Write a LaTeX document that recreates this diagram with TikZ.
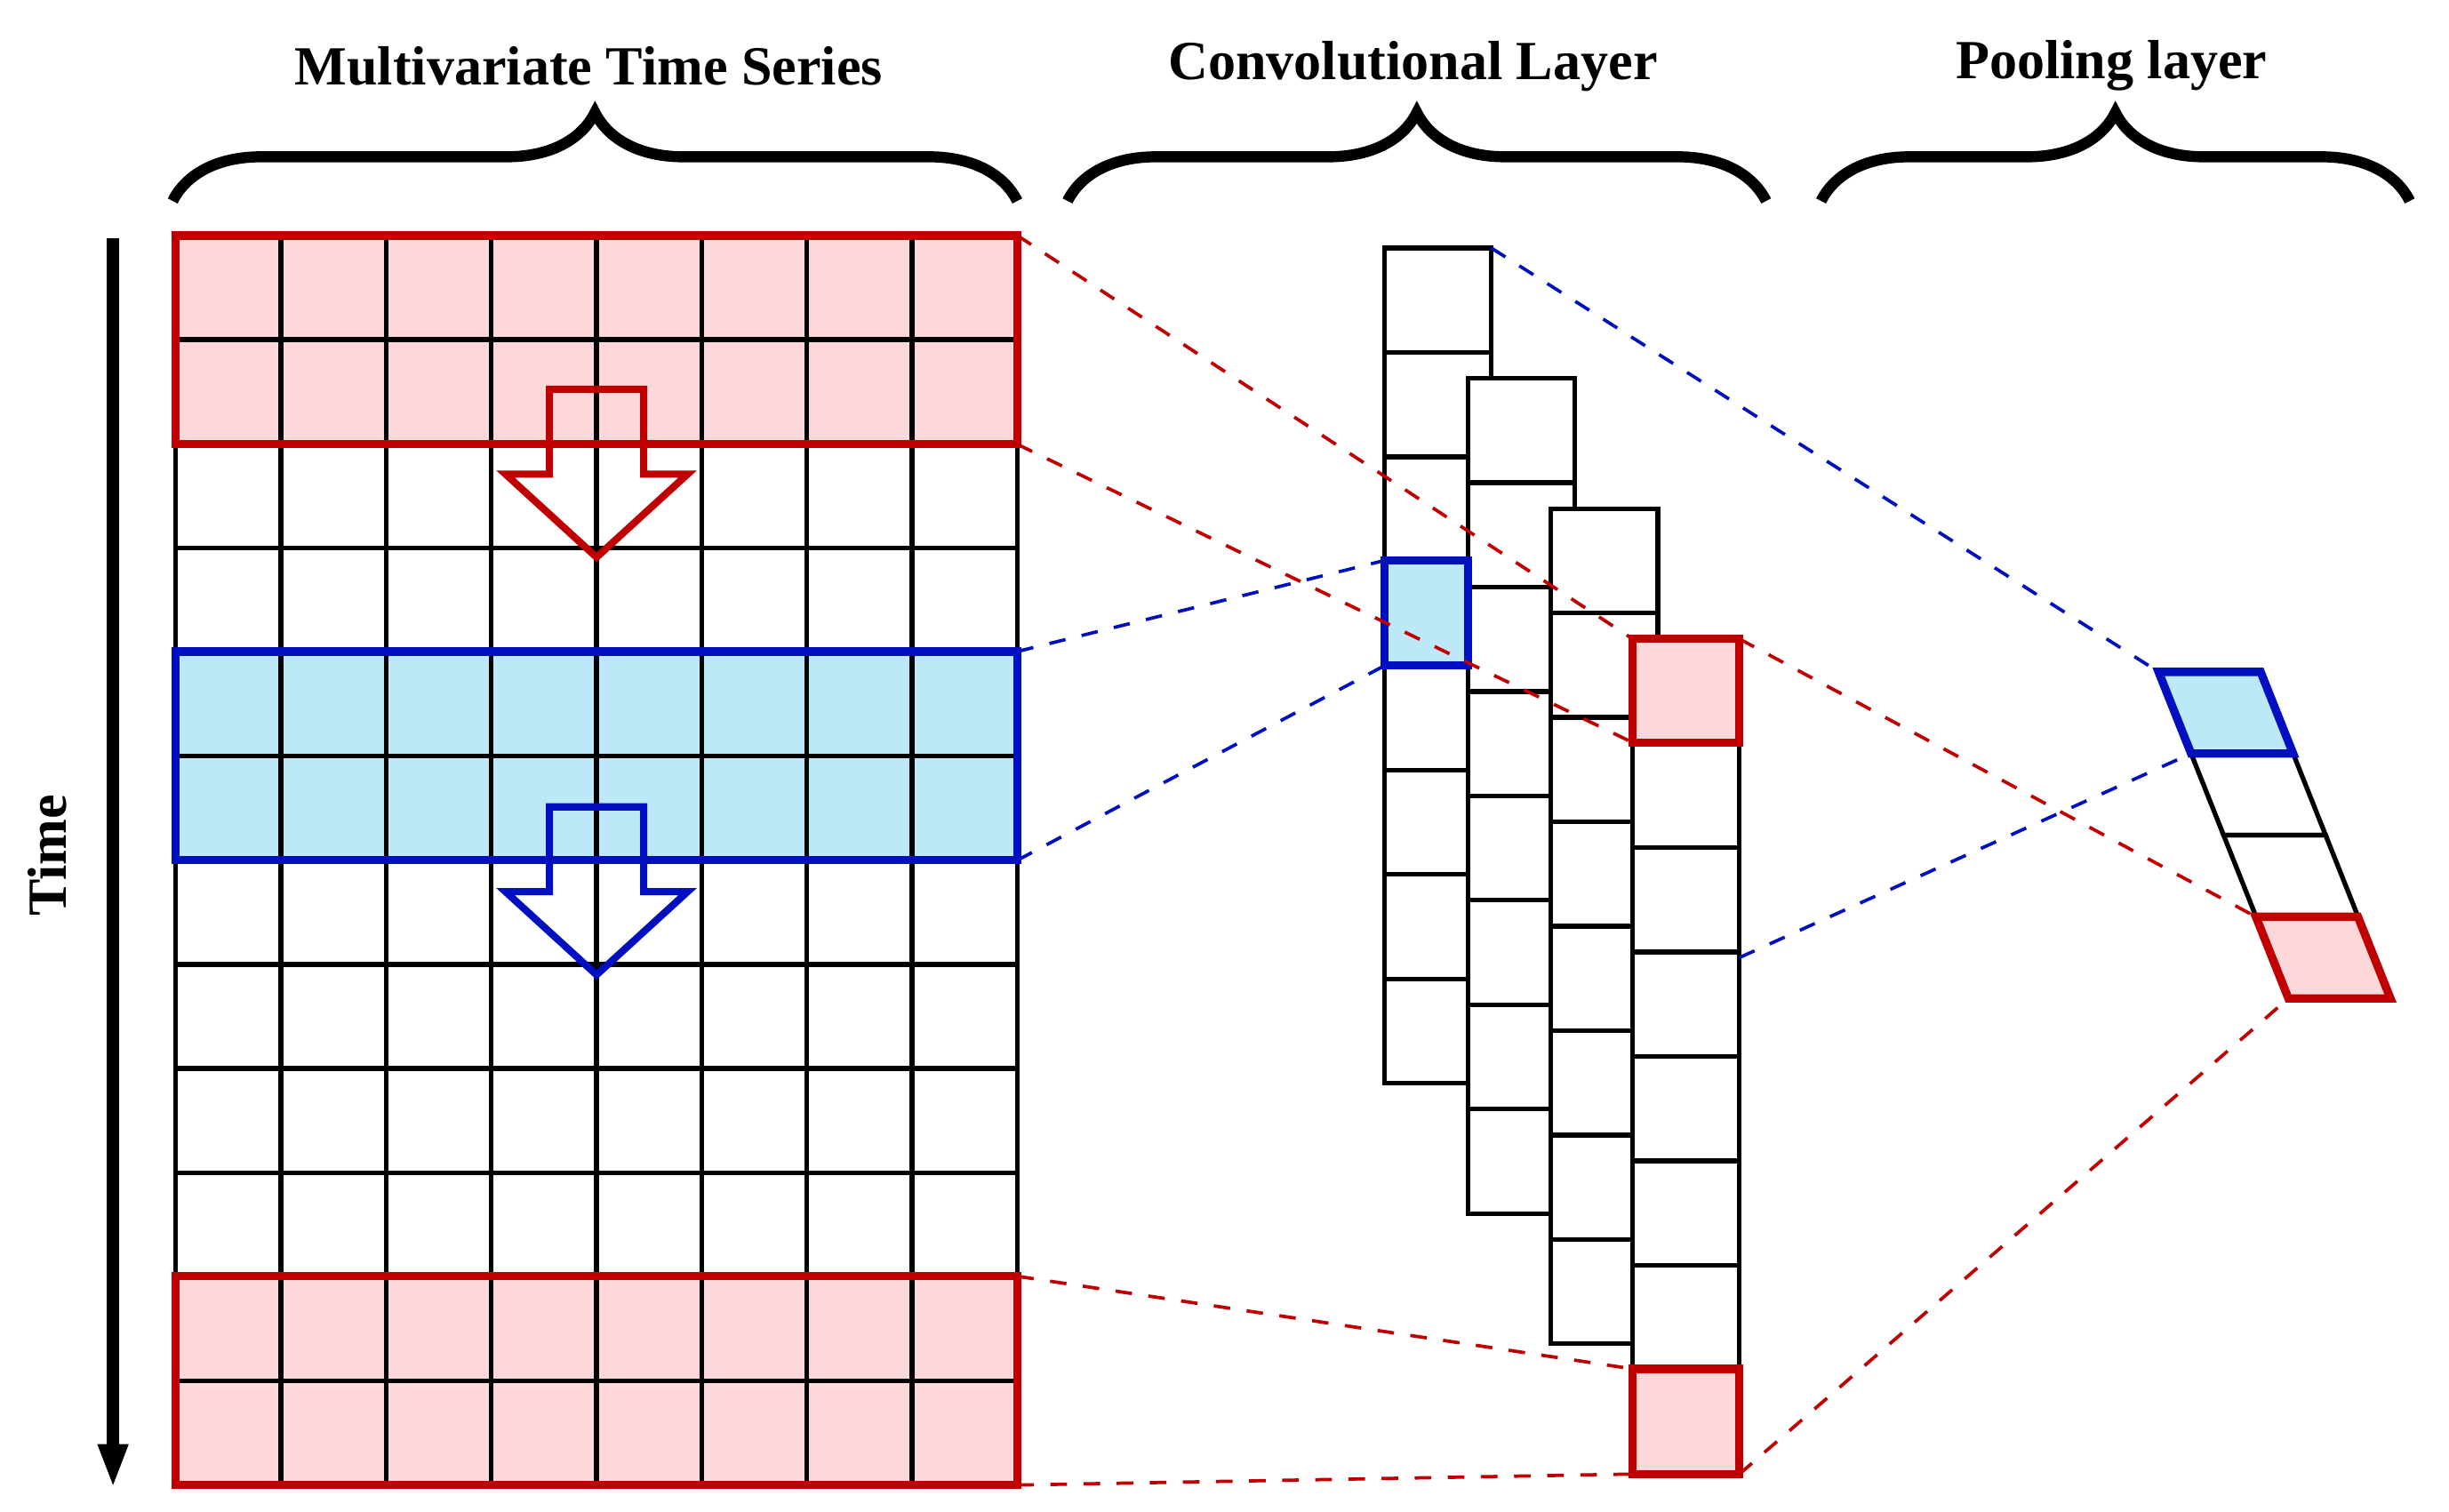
\documentclass[tikz,border=0pt]{standalone}
\usepackage{fontspec}
\setmainfont{Liberation Serif}
\usetikzlibrary{decorations.pathreplacing,arrows.meta}
\definecolor{boxred}{HTML}{C00000}
\definecolor{fillred}{HTML}{FDD8DA}
\definecolor{boxblue}{HTML}{0010C0}
\definecolor{fillblue}{HTML}{BDE8F8}
\begin{document}
\begin{tikzpicture}[x=0.01cm,y=-0.01cm,
    cell/.style={draw=black, line width=0.85pt},
    rbox/.style={draw=boxred, line width=1.5pt},
    bbox/.style={draw=boxblue, line width=1.5pt},
    rlink/.style={draw=boxred, dashed, line width=0.6pt},
    blink/.style={draw=boxblue, dashed, line width=0.6pt},
    brc/.style={decorate, decoration={brace, amplitude=16pt}, line width=2pt},
    ttl/.style={font=\fontsize{10}{12}\selectfont\bfseries}]
    \useasboundingbox (0,0) rectangle (1560,963);

    % titles and braces
    \draw[brc] (110,128) -- (648,128);
    \draw[brc] (680,128) -- (1125,128);
    \draw[brc] (1160,128) -- (1535,128);
    \node[ttl] (t1) at (375,42) {Multivariate Time Series};
    \node[ttl] (t2) at (900,42) {Convolutional Layer};
    \node[ttl] (t3) at (1345,42) {Pooling layer};

    % time axis
    \coordinate (ta) at (72,152);
    \coordinate (tb) at (72,948);
    \draw[line width=2.2pt, -{Triangle[length=8pt,width=5pt]}] (ta) -- (tb);
    \node[ttl, rotate=90] (time) at (30,545) {Time};

    % input grid
    \fill[fillred] (112,150) rectangle (648,283);
    \fill[fillblue] (112,415) rectangle (648,548);
    \fill[fillred] (112,813) rectangle (648,946);
    \foreach \i in {0,...,8}
        \draw[cell] ({112+67*\i},150) -- ({112+67*\i},946);
    \foreach \j in {0,...,12}
        \draw[cell] (112,{150+66.33*\j}) -- (648,{150+66.33*\j});
    \draw[rbox] (112,150) rectangle (648,283);
    \draw[bbox] (112,415) rectangle (648,548);
    \draw[rbox] (112,813) rectangle (648,946);

    % sliding arrows
    \draw[rbox, line width=1.3pt] (350,248) -- (410,248) -- (410,302) -- (438,302)
        -- (380,355) -- (322,302) -- (350,302) -- cycle;
    \draw[bbox, line width=1.3pt] (350,514) -- (410,514) -- (410,568) -- (438,568)
        -- (380,621) -- (322,568) -- (350,568) -- cycle;

    % convolutional maps
    \foreach \k/\x/\y in {1/882/158, 2/935/241, 3/988/324, 4/1040/407} {
        \foreach \j in {0,...,7}
            \draw[cell, fill=white] (\x,{\y+66.5*\j}) rectangle ({\x+68},{\y+66.5*(\j+1)});
    }
    \draw[bbox, fill=fillblue] (882,357) rectangle (935,424);
    \draw[rbox, fill=fillred] (1040,407) rectangle (1108,473);
    \draw[rbox, fill=fillred] (1040,872) rectangle (1108,939);

    % pooling map
    \foreach \j in {0,...,3}
        \draw[cell] ({1375+20.7*\j},{428+52*\j}) -- ({1440+20.7*\j},{428+52*\j})
            -- ({1460.7+20.7*\j},{480+52*\j}) -- ({1395.7+20.7*\j},{480+52*\j}) -- cycle;
    \draw[bbox, fill=fillblue] (1375,428) -- (1440,428) -- (1460.7,480) -- (1395.7,480) -- cycle;
    \draw[rbox, fill=fillred] (1437,584) -- (1502,584) -- (1522.7,636) -- (1457.7,636) -- cycle;

    % dashed connections
    \coordinate (g1) at (648,150);
    \coordinate (g2) at (648,283);
    \coordinate (g3) at (648,415);
    \coordinate (g4) at (648,548);
    \coordinate (g5) at (648,813);
    \coordinate (g6) at (648,946);
    \coordinate (c1) at (1040,407);
    \coordinate (c2) at (1040,473);
    \coordinate (c3) at (1040,872);
    \coordinate (c4) at (1040,939);
    \coordinate (c5) at (1108,407);
    \coordinate (c6) at (1108,939);
    \coordinate (c7) at (950,158);
    \coordinate (c8) at (1108,610);
    \coordinate (cb1) at (882,357);
    \coordinate (cb2) at (882,424);
    \coordinate (p1) at (1375,428);
    \coordinate (p2) at (1395.7,480);
    \coordinate (p3) at (1437,584);
    \coordinate (p4) at (1457.7,636);
    \draw[rlink] (g1) -- (c1);
    \draw[rlink] (g2) -- (c2);
    \draw[rlink] (g5) -- (c3);
    \draw[rlink] (g6) -- (c4);
    \draw[rlink] (c5) -- (p3);
    \draw[rlink] (c6) -- (p4);
    \draw[blink] (g3) -- (cb1);
    \draw[blink] (g4) -- (cb2);
    \draw[blink] (c7) -- (p1);
    \draw[blink] (c8) -- (p2);
\end{tikzpicture}
\end{document}
